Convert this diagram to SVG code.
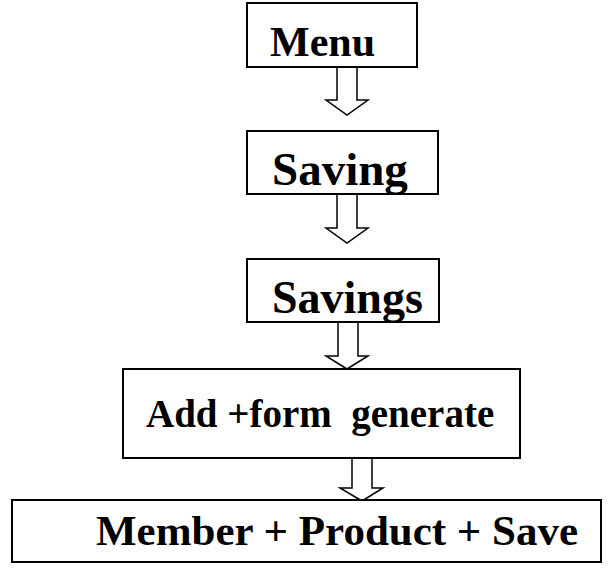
<svg xmlns="http://www.w3.org/2000/svg" width="614" height="568" viewBox="0 0 614 568">
<style>
.box{fill:#fff;stroke:#000;stroke-width:2}
.t{font-family:"Liberation Serif","Times New Roman",serif;font-weight:bold;fill:#000}
.arr{fill:#fff;stroke:#000;stroke-width:1.5;stroke-linejoin:miter}
</style>
<defs>
<clipPath id="c2"><rect x="248" y="132" width="189" height="61"/></clipPath>
<clipPath id="c3"><rect x="248" y="260" width="190" height="61"/></clipPath>
</defs>
<rect width="614" height="568" fill="#fff"/>
<g id="connectors">
<path class="arr" d="M337,67 V100 H326 L347,115 L368,100 H357 V67"/>
<path class="arr" d="M337,194 V228 H326 L347,243 L368,228 H357 V194"/>
<path class="arr" d="M338,322 V356 H326 L347,369 L368,356 H358 V322"/>
<path class="arr" d="M352,458 V488 H340 L362,501 L383,488 H372 V458"/>
</g>
<g id="menu">
<rect class="box" x="247" y="3" width="170" height="64"/>
<text class="t" x="270" y="56" font-size="42">Menu</text>
</g>
<g id="saving">
<rect class="box" x="247" y="131" width="191" height="63"/>
<text class="t" x="272" y="185" font-size="47" clip-path="url(#c2)">Saving</text>
</g>
<g id="savings">
<rect class="box" x="247" y="259" width="192" height="63"/>
<text class="t" x="272" y="313" font-size="46" clip-path="url(#c3)">Savings</text>
</g>
<g id="add">
<rect class="box" x="123" y="369" width="397" height="89"/>
<text class="t" x="146" y="427" font-size="39" xml:space="preserve">Add +form  generate</text>
</g>
<g id="member">
<rect class="box" x="12" y="500" width="589" height="62"/>
<text class="t" x="96" y="545" font-size="43" xml:space="preserve">Member + Product + Save</text>
</g>
</svg>
